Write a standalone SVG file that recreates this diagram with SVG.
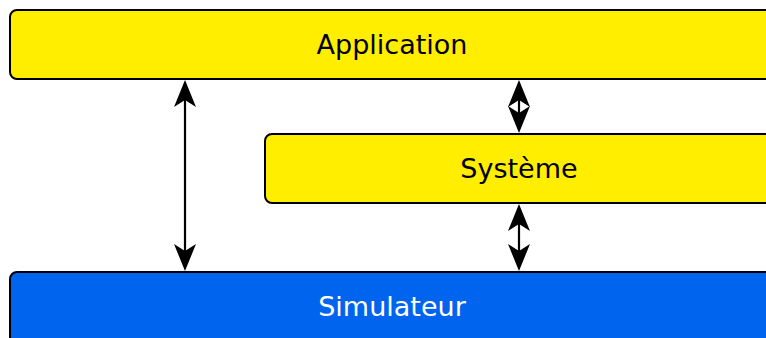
<svg xmlns="http://www.w3.org/2000/svg" width="766" height="338" viewBox="0 0 766 338">
<style>
.box{stroke:#000;stroke-width:2}
.y{fill:#ffee00}
.b{fill:#0064ef}
.t{font-family:"DejaVu Sans",sans-serif;font-size:27px;text-anchor:middle}
.ln{stroke:#000;stroke-width:2.2;fill:none}
.ah{fill:#000;stroke:none}
</style>
<defs>
<path id="headUp" d="M0,0 L11,27 L0,20 L-11,27 Z"/>
<path id="headDown" d="M0,0 L11,-27 L0,-20 L-11,-27 Z"/>
</defs>
<g id="connectors">
<line class="ln" x1="185" y1="95" x2="185" y2="256"/>
<use href="#headUp" class="ah" x="185" y="80"/>
<use href="#headDown" class="ah" x="185" y="271"/>
<line class="ln" x1="519" y1="95" x2="519" y2="118"/>
<use href="#headUp" class="ah" x="519" y="80"/>
<use href="#headDown" class="ah" x="519" y="133"/>
<line class="ln" x1="519" y1="220" x2="519" y2="256"/>
<use href="#headUp" class="ah" x="519" y="204"/>
<use href="#headDown" class="ah" x="519" y="271"/>
</g>
<g id="application">
<rect class="box y" x="10" y="10" width="764" height="69" rx="7"/>
<text class="t" x="392" y="54">Application</text>
</g>
<g id="systeme">
<rect class="box y" x="265" y="134" width="509" height="69" rx="7"/>
<text class="t" x="519" y="178">Système</text>
</g>
<g id="simulateur">
<rect class="box b" x="10" y="272" width="764" height="76" rx="7"/>
<text class="t" x="392" y="316" fill="#fff">Simulateur</text>
</g>
</svg>
